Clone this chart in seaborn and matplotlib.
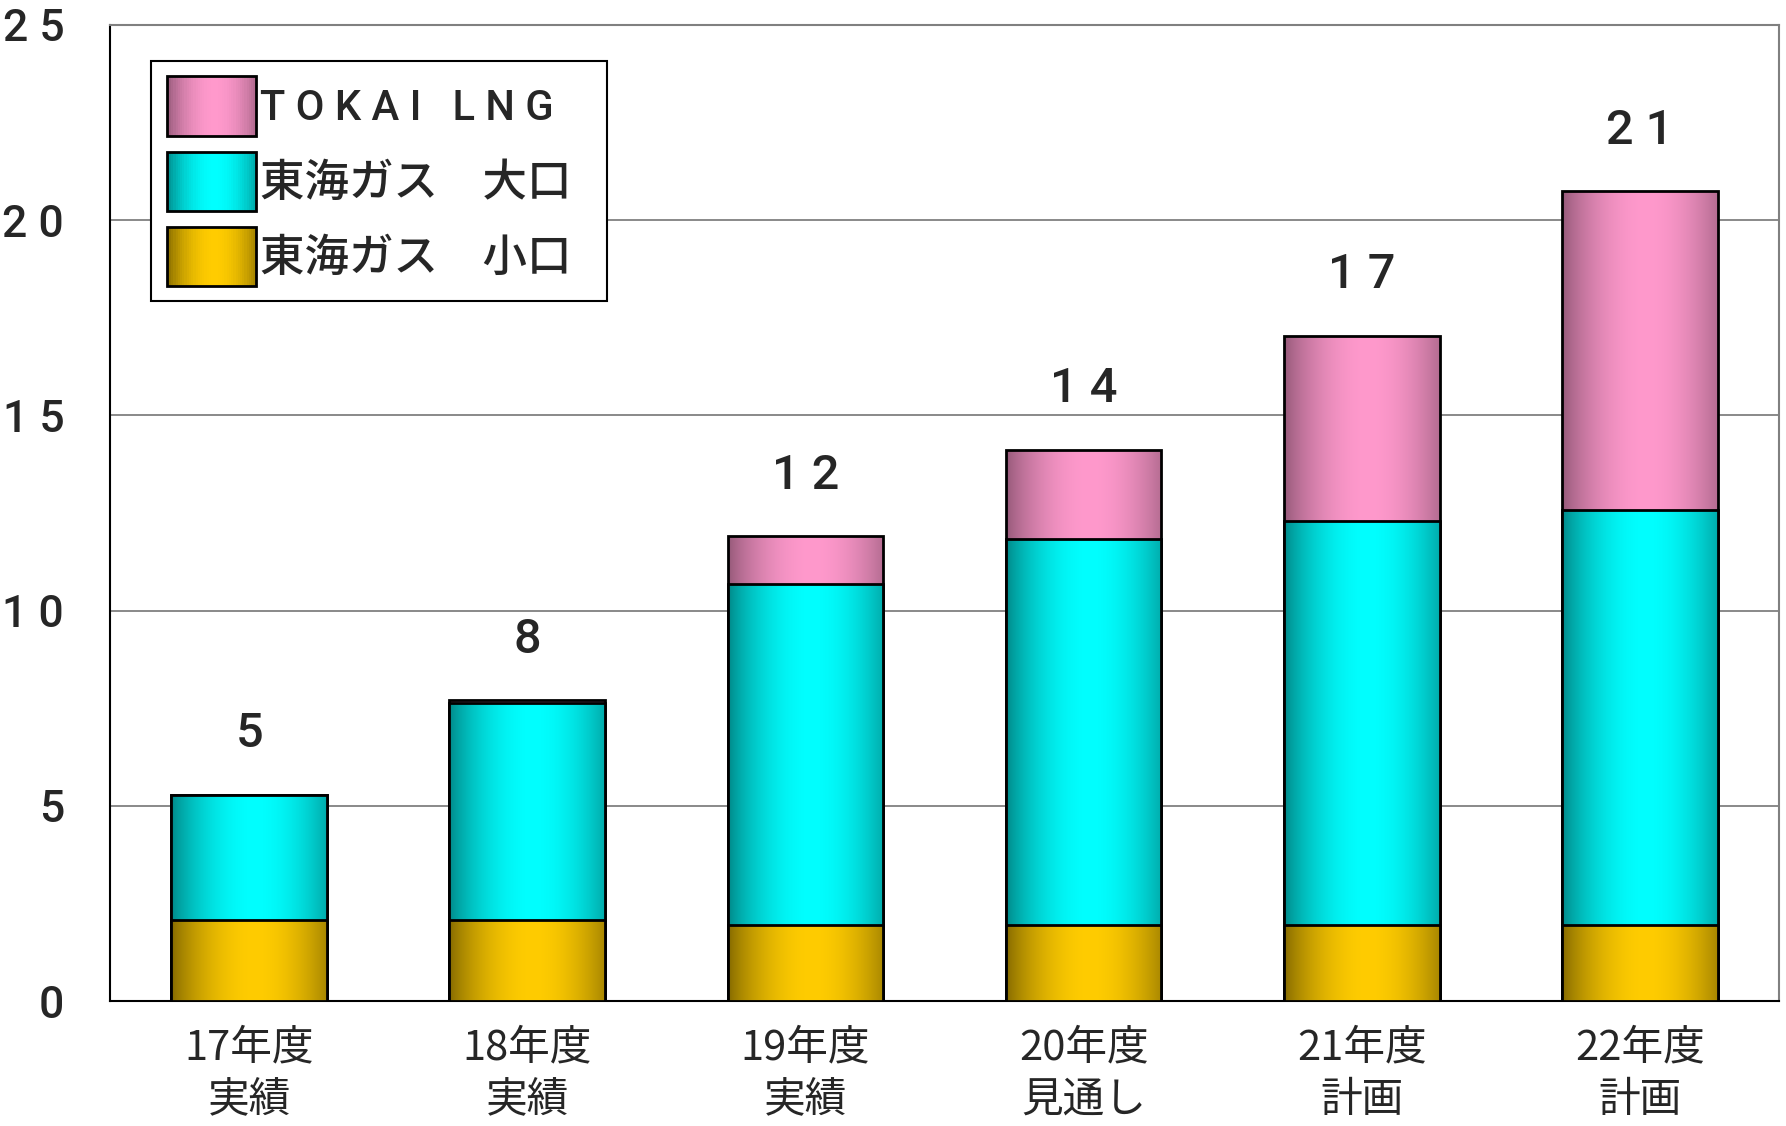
import numpy as np
import pandas as pd
import seaborn as sns
import matplotlib
matplotlib.use("Agg")
from matplotlib import pyplot as plt
from matplotlib.patches import Rectangle
from matplotlib.legend_handler import HandlerBase

years = ["17年度\n実績", "18年度\n実績", "19年度\n実績", "20年度\n見通し", "21年度\n計画", "22年度\n計画"]
small = [2.07, 2.07, 1.95, 1.95, 1.95, 1.95]
large = [3.21, 5.57, 8.73, 9.89, 10.33, 10.62]
lng = [0.0, 0.06, 1.22, 2.28, 4.76, 8.17]
total_labels = ["5", "8", "1 2", "1 4", "1 7", "2 1"]
series_names = ["TOKAI LNG", "東海ガス　大口  ", "東海ガス　小口  "]
ytick_vals = [0, 5, 10, 15, 20, 25]
ytick_labels = ["0", "5", "1 0", "1 5", "2 0", "2 5"]

# colours: (edge dark, centre light)
shades = {
    "lng": ("#965a7a", "#ff99cc"),
    "large": ("#008a8a", "#00ffff"),
    "small": ("#866b00", "#ffcc00"),
}

df = pd.DataFrame({"year": years, "small": small, "large": large, "lng": lng})
df["cum_large"] = df["small"] + df["large"]
df["cum_lng"] = df["cum_large"] + df["lng"]

sns.set_style("white")
plt.rcParams["font.family"] = ["Noto Sans CJK JP", "DejaVu Sans"]
narrow = ["Roboto", "DejaVu Sans"]


def gradient(dark, light, n=64):
    d = np.array(matplotlib.colors.to_rgb(dark))
    l = np.array(matplotlib.colors.to_rgb(light))
    t = np.linspace(0, 1, n)
    f = np.clip(np.sin(np.pi * np.clip(t / 1.08, 0, 1)) ** 0.8, 0, 1)
    return d[None, :] + (l - d)[None, :] * f[:, None]


fig = plt.figure(figsize=(17.86, 11.26), dpi=100)
ax = fig.add_axes([0.0616, 0.111, 0.9345, 0.867])

layers = [("cum_lng", "lng", 1), ("cum_large", "large", 2), ("small", "small", 3)]
for col, key, z in layers:
    before = len(ax.patches)
    sns.barplot(data=df, x="year", y=col, color=shades[key][1], width=0.56,
                edgecolor="black", linewidth=2, ax=ax, errorbar=None)
    for p in ax.patches[before:]:
        p.set_zorder(z * 2 + 1)
        p.set_facecolor("none")
        x0, y0, w, h = p.get_x(), p.get_y(), p.get_width(), p.get_height()
        if h <= 0:
            continue
        img = gradient(*shades[key])[None, :, :]
        im = ax.imshow(img, extent=[x0, x0 + w, y0, y0 + h], aspect="auto",
                       interpolation="bilinear", zorder=z * 2)
        im.set_clip_path(p)

ax.set_xlim(-0.5, len(years) - 0.5)
ax.set_ylim(0, 25)
ax.set_aspect("auto")

ax.set_yticks(ytick_vals)
ax.set_yticklabels(ytick_labels, family=narrow, fontsize=32, fontweight="medium")
ax.set_xticks(range(len(years)))
ax.set_xticklabels(years, fontsize=30, linespacing=1.36)
ax.tick_params(axis="y", length=0, pad=33)
ax.tick_params(axis="x", length=0, pad=19)
ax.set_xlabel("")
ax.set_ylabel("")

ax.yaxis.grid(True, color="#808080", linewidth=1.3)
ax.set_axisbelow(True)
for s in ["left", "bottom"]:
    ax.spines[s].set_color("black")
    ax.spines[s].set_linewidth(1.5)
for s in ["top", "right"]:
    ax.spines[s].set_color("#808080")
    ax.spines[s].set_linewidth(1.5)

for i, lab in enumerate(total_labels):
    ax.annotate(lab, (i, df["cum_lng"][i]), xytext=(0, 27), textcoords="offset points",
                ha="center", va="bottom", fontsize=35, fontweight="medium", family=narrow)


class GradientHandler(HandlerBase):
    def __init__(self, dark, light):
        super().__init__()
        self.dark = dark
        self.light = light

    def create_artists(self, legend, orig_handle, xdescent, ydescent, width, height, fontsize, trans):
        cols = gradient(self.dark, self.light, 40)
        arts = []
        sw = width / len(cols)
        for k, c in enumerate(cols):
            r = Rectangle((-xdescent + k * sw, -ydescent), sw * 1.05, height,
                          facecolor=c, edgecolor="none", transform=trans)
            arts.append(r)
        arts.append(Rectangle((-xdescent, -ydescent), width, height, facecolor="none",
                              edgecolor="black", linewidth=2, transform=trans))
        return arts


handles = [Rectangle((0, 0), 1, 1) for _ in series_names]
handler_map = {h: GradientHandler(*shades[k]) for h, k in zip(handles, ["lng", "large", "small"])}
leg = ax.legend(handles, series_names, handler_map=handler_map, loc="upper left",
                bbox_to_anchor=(0.0246, 0.963), borderaxespad=0,
                prop={"size": 32, "weight": "medium"},
                handlelength=2.0, handleheight=1.67, labelspacing=0.36,
                handletextpad=0.1, borderpad=0.35, fancybox=False,
                edgecolor="black", framealpha=1)
leg.get_frame().set_linewidth(1.5)
leg.set_zorder(20)
t0 = leg.get_texts()[0]
t0.set_text("T O K A I   L N G")
t0.set_family(narrow)
t0.set_fontsize(30)

fig.savefig("out.png", dpi=100)
